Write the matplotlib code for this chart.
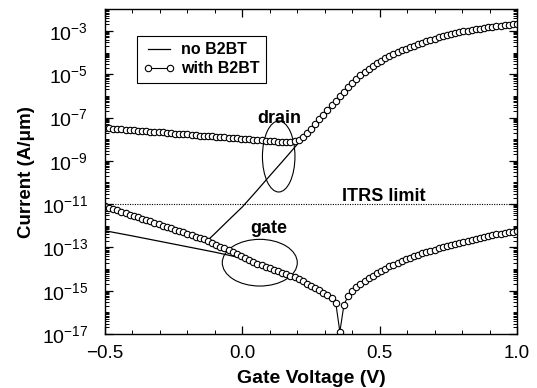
import numpy as np
import matplotlib
matplotlib.use("Agg")
import matplotlib.pyplot as plt
from matplotlib.patches import Ellipse
from matplotlib.lines import Line2D
from matplotlib.ticker import FixedLocator, LogLocator, MultipleLocator, NullFormatter

plt.rcParams['font.family'] = ['Liberation Sans', 'DejaVu Sans']
plt.rcParams['mathtext.fontset'] = 'custom'
plt.rcParams['mathtext.rm'] = 'Liberation Sans'

# gate voltage sweep (V) for the "with B2BT" simulation
v_sweep = np.linspace(-0.5, 1.0, 101)

# log10 of drain current, with band-to-band tunneling
drain_b2bt_log = [
    -7.48, -7.50, -7.51, -7.53, -7.54, -7.56, -7.57, -7.59, -7.60, -7.62,
    -7.63, -7.65, -7.66, -7.68, -7.69, -7.71, -7.72, -7.74, -7.75, -7.77,
    -7.78, -7.80, -7.81, -7.83, -7.84, -7.86, -7.87, -7.89, -7.90, -7.92,
    -7.93, -7.95, -7.96, -7.98, -7.99, -8.01, -8.02, -8.04, -8.05, -8.07,
    -8.08, -8.10, -8.11, -8.12, -8.13, -8.13, -8.10, -8.03, -7.90, -7.72,
    -7.52, -7.30, -7.09, -6.87, -6.65, -6.44, -6.22, -6.01, -5.80, -5.60,
    -5.40, -5.21, -5.03, -4.88, -4.74, -4.61, -4.49, -4.38, -4.27, -4.17,
    -4.07, -3.98, -3.90, -3.82, -3.75, -3.68, -3.61, -3.54, -3.48, -3.42,
    -3.36, -3.30, -3.25, -3.20, -3.15, -3.10, -3.06, -3.02, -2.98, -2.95,
    -2.92, -2.89, -2.86, -2.83, -2.80, -2.78, -2.76, -2.74, -2.72, -2.70,
    -2.68]

# log10 of |gate current|, with band-to-band tunneling
gate_b2bt_log = [
    -11.10, -11.16, -11.23, -11.29, -11.35, -11.42, -11.48, -11.55, -11.61, -11.67,
    -11.74, -11.80, -11.86, -11.93, -11.99, -12.05, -12.12, -12.18, -12.24, -12.31,
    -12.37, -12.44, -12.50, -12.56, -12.63, -12.69, -12.78, -12.87, -12.96, -13.05,
    -13.13, -13.22, -13.31, -13.40, -13.49, -13.58, -13.67, -13.75, -13.83, -13.90,
    -13.97, -14.04, -14.10, -14.17, -14.23, -14.30, -14.37, -14.46, -14.56, -14.67,
    -14.78, -14.88, -14.99, -15.10, -15.21, -15.33, -15.55, -16.90, -15.65, -15.25,
    -15.02, -14.85, -14.70, -14.56, -14.43, -14.31, -14.19, -14.08, -13.98, -13.88,
    -13.79, -13.70, -13.62, -13.54, -13.47, -13.40, -13.34, -13.28, -13.22, -13.16,
    -13.10, -13.04, -12.98, -12.93, -12.88, -12.83, -12.78, -12.73, -12.69, -12.64,
    -12.60, -12.56, -12.52, -12.48, -12.44, -12.40, -12.37, -12.33, -12.30, -12.27,
    -12.23]

# without B2BT (plain lines)
drain_nb_v = [-0.125, -0.1, -0.05, 0.0, 0.05, 0.1, 0.15, 0.2, 0.25, 0.3,
              0.35, 0.4, 0.45, 0.5, 0.55, 0.6, 0.7, 0.8, 0.9, 1.0]
drain_nb_log = [-12.66, -12.36, -11.74, -11.13, -10.42, -9.69, -8.97, -8.24, -7.52, -6.80,
                -6.08, -5.40, -4.85, -4.43, -4.07, -3.79, -3.36, -3.02, -2.80, -2.68]
gate_nb_v = [-0.5, -0.4, -0.3, -0.2, -0.1, 0.0, 0.05, 0.1, 0.15]
gate_nb_log = [-12.23, -12.47, -12.72, -12.97, -13.22, -13.50, -13.68, -13.97, -14.20]

itrs_limit = 1e-11

fig = plt.figure(figsize=(5.37, 3.88), dpi=100)
ax = fig.add_axes([0.1955, 0.1392, 0.7673, 0.8368])

ax.plot(drain_nb_v, 10 ** np.array(drain_nb_log), 'k-', lw=0.9)
ax.plot(gate_nb_v, 10 ** np.array(gate_nb_log), 'k-', lw=0.9)

circ = dict(color='black', lw=0.8, marker='o', ms=4.6, mfc='white', mec='black', mew=0.8)
ax.plot(v_sweep, 10 ** np.array(drain_b2bt_log), **circ)
ax.plot(v_sweep, 10 ** np.array(gate_b2bt_log), **circ)

ax.axhline(itrs_limit, color='black', ls=(0, (1, 1.2)), lw=0.8)

ax.set_yscale('log')
ax.set_xlim(-0.5, 1.0)
ax.set_ylim(1e-17, 1e-2)

# ticks: inward on all sides
ax.xaxis.set_major_locator(FixedLocator([-0.5, 0.0, 0.5, 1.0]))
ax.xaxis.set_minor_locator(MultipleLocator(0.1))
ax.set_xticklabels(['\u22120.5', '0.0', '0.5', '1.0'])
ymaj = [10.0 ** e for e in range(-17, -2, 2)]
ax.yaxis.set_major_locator(FixedLocator(ymaj))
ax.set_yticklabels([r'$\mathregular{10^{%d}}$' % e for e in range(-17, -2, 2)])
ax.yaxis.set_minor_locator(LogLocator(base=10, subs=np.arange(1, 10), numticks=100))
ax.yaxis.set_minor_formatter(NullFormatter())
ax.tick_params(which='both', direction='in', top=True, right=True)
ax.tick_params(which='major', length=6, width=0.9)
ax.tick_params(which='minor', length=3, width=0.7)
ax.tick_params(axis='x', which='major', labelsize=13.5, pad=8)
ax.tick_params(axis='y', which='major', labelsize=14, pad=12)
for s in ax.spines.values():
    s.set_linewidth(1.0)

ax.set_xlabel('Gate Voltage (V)', fontsize=14, fontweight='bold', labelpad=6)
ax.set_ylabel('Current (A/\u03bcm)', fontsize=13.5, fontweight='bold', labelpad=5)

# annotations
ax.add_patch(Ellipse((0.4216, 0.5467), 0.0789, 0.2187, transform=ax.transAxes,
                     fill=False, ec='black', lw=0.8))
ax.add_patch(Ellipse((0.3757, 0.2196), 0.182, 0.1438, transform=ax.transAxes,
                     fill=False, ec='black', lw=0.8))
ax.text(0.4235, 0.65, 'drain', transform=ax.transAxes, ha='center', va='baseline',
        fontsize=13, fontweight='bold')
ax.text(0.398, 0.312, 'gate', transform=ax.transAxes, ha='center', va='baseline',
        fontsize=13, fontweight='bold')
ax.text(0.677, 0.41, 'ITRS limit', transform=ax.transAxes, ha='center', va='baseline',
        fontsize=13, fontweight='bold')

handles = [Line2D([], [], color='black', lw=0.9),
           Line2D([], [], **circ)]
leg = ax.legend(handles, ['no B2BT', 'with B2BT'], loc='upper left',
                bbox_to_anchor=(0.077, 0.918), borderaxespad=0, numpoints=2,
                fancybox=False, framealpha=1, edgecolor='black',
                prop={'weight': 'bold', 'size': 11.5}, handlelength=2.0,
                handletextpad=0.4, borderpad=0.4, labelspacing=0.25)
leg.get_frame().set_linewidth(0.8)

fig.savefig('out.png', dpi=100)
